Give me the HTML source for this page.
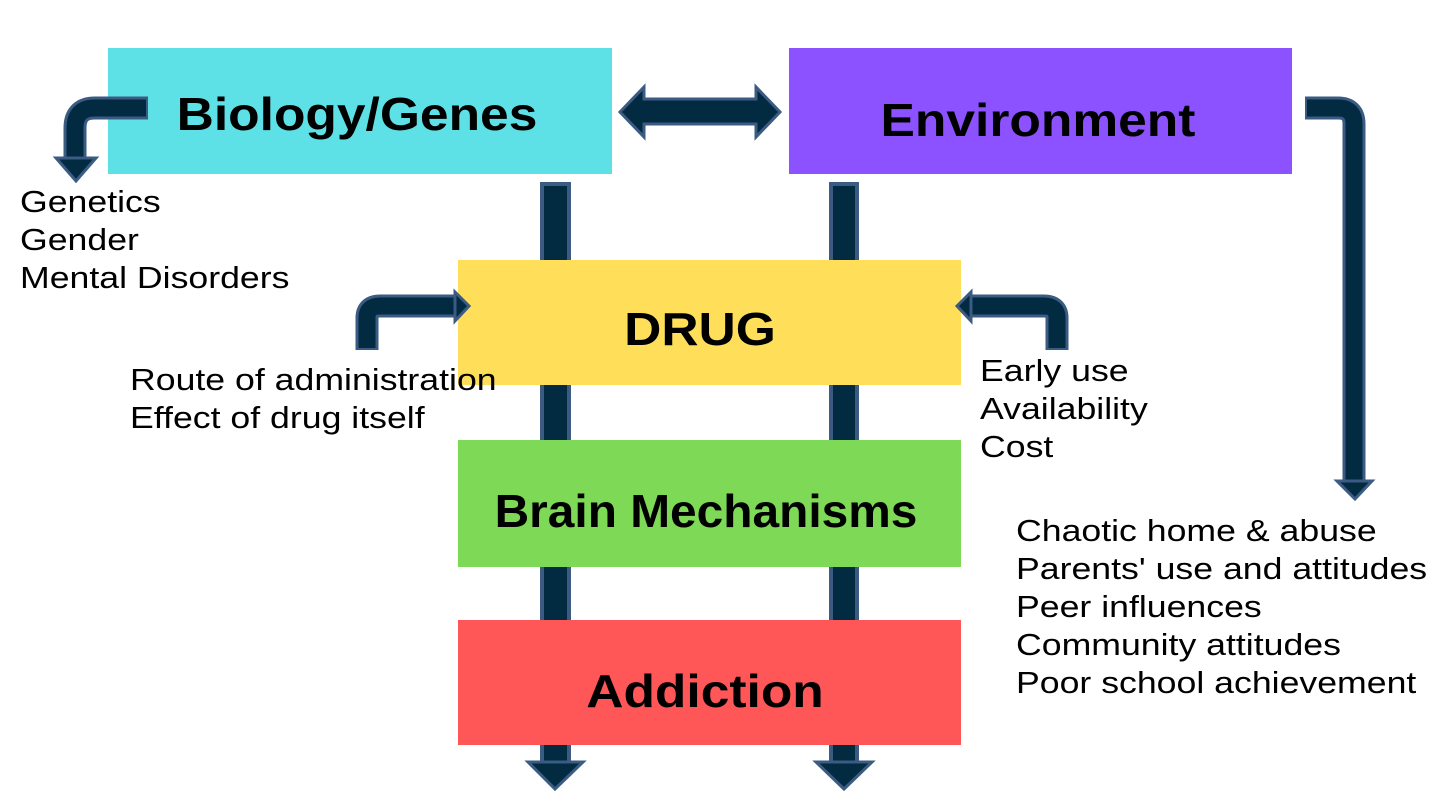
<!DOCTYPE html>
<html><head><meta charset="utf-8"><style>
body{margin:0;width:1440px;height:810px;background:#fff;position:relative;overflow:hidden;font-family:"Liberation Sans",Arial,sans-serif}
.box{position:absolute}
.lb{position:absolute;font-weight:bold;font-size:46px;color:#000;white-space:nowrap;transform:translate(-50%,-50%) scaleX(1.12);line-height:1}
.t{position:absolute;font-size:31px;line-height:38px;color:#000;white-space:nowrap;transform:scaleX(1.15);transform-origin:0 0}
svg{position:absolute;left:0;top:0}
</style></head><body>
<svg width="1440" height="810">
<g fill="#022b42" stroke="#3b5b82" stroke-width="4">
<rect x="542" y="184" width="27" height="580"/>
<rect x="831" y="184" width="26" height="580"/>
</g>
</svg>
<div class="box" style="left:108px;top:48px;width:504px;height:126px;background:#5ee1e6"></div>
<div class="box" style="left:789px;top:48px;width:503px;height:126px;background:#8c52ff"></div>
<div class="box" style="left:458px;top:260px;width:503px;height:125px;background:#ffde59"></div>
<div class="box" style="left:458px;top:440px;width:503px;height:127px;background:#7ed957"></div>
<div class="box" style="left:458px;top:620px;width:503px;height:125px;background:#ff5757"></div>
<div class="lb" style="left:357px;top:114px">Biology/Genes</div>
<div class="lb" style="left:1038px;top:120px">Environment</div>
<div class="lb" style="left:700px;top:329px">DRUG</div>
<div class="lb" style="left:706px;top:511px;transform:translate(-50%,-50%) scaleX(1.04)">Brain Mechanisms</div>
<div class="lb" style="left:705px;top:691px">Addiction</div>
<svg width="1440" height="810">
<g fill="none" stroke-linejoin="round">
<g stroke="#3b5b82" stroke-width="23">
<path d="M148,108 H95 Q75,108 75,128 V160"/>
<path d="M1305,108 H1338 Q1354,108 1354,124 V482"/>
<path d="M367,350 V318 Q367,306 380,306 H456"/>
<path d="M1057,350 V318 Q1057,306 1044,306 H970"/>
</g>
<g stroke="#022b42" stroke-width="17">
<path d="M146,108 H95 Q75,108 75,128 V162"/>
<path d="M1307,108 H1338 Q1354,108 1354,124 V484"/>
<path d="M367,348 V318 Q367,306 380,306 H458"/>
<path d="M1057,348 V318 Q1057,306 1044,306 H968"/>
</g>
</g>
<g fill="#022b42" stroke="#3b5b82" stroke-width="3" stroke-linejoin="miter">
<polygon points="56,158 96,158 76,181"/>
<polygon points="1337,481 1372,481 1355,499"/>
<polygon points="455,292 469,306 455,321"/>
<polygon points="971,292 957,306 971,321"/>
<polygon points="620,112 644,87 644,99 756,99 756,87 780,112 756,137 756,124 644,124 644,137"/>
<polygon points="528,762 583,762 555,789"/>
<polygon points="816,762 872,762 844,789"/>
</g>
</svg>
<div class="t" style="left:20px;top:183px">Genetics<br>Gender<br>Mental Disorders</div>
<div class="t" style="left:130px;top:361px">Route of administration<br>Effect of drug itself</div>
<div class="t" style="left:980px;top:352px">Early use<br>Availability<br>Cost</div>
<div class="t" style="left:1016px;top:512px">Chaotic home &amp; abuse<br>Parents' use and attitudes<br>Peer influences<br>Community attitudes<br>Poor school achievement</div>
</body></html>
